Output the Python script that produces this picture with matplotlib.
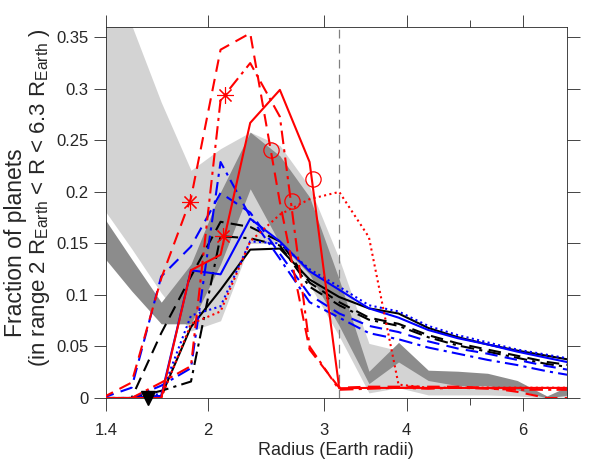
import numpy as np
import matplotlib.pyplot as plt
from matplotlib.ticker import FixedLocator, NullFormatter

plt.rcParams['font.family'] = ['Liberation Sans', 'DejaVu Sans']
plt.rcParams['mathtext.fontset'] = 'custom'
plt.rcParams['mathtext.rm'] = 'Liberation Sans'

# bin radii (Earth radii)
radius = [1.380, 1.531, 1.698, 1.884, 2.089, 2.317, 2.570, 2.851, 3.162,
          3.508, 3.890, 4.315, 4.786, 5.309, 5.888, 6.531, 7.244]

# observed ranges (gray bands)
light_lo = [0.186, 0.145, 0.102, 0.065, 0.075, 0.150, 0.150, 0.110, 0.060,
            0.005, 0.010, 0.003, 0.003, 0.003, 0.002, 0.000, 0.002]
light_hi = [0.400, 0.362, 0.287, 0.221, 0.242, 0.258, 0.245, 0.205, 0.135,
            0.053, 0.046, 0.022, 0.020, 0.017, 0.012, 0.002, 0.010]
dark_lo = [0.139, 0.104, 0.072, 0.072, 0.130, 0.203, 0.150, 0.120, 0.070,
           0.014, 0.035, 0.017, 0.012, 0.012, 0.008, 0.000, 0.004]
dark_hi = [0.178, 0.135, 0.093, 0.130, 0.200, 0.258, 0.235, 0.195, 0.115,
           0.026, 0.054, 0.027, 0.026, 0.024, 0.017, 0.002, 0.015]

# model curves
red_solid = [0, 0, 0, 0.124, 0.139, 0.267, 0.299, 0.229, 0.0095, 0.0098,
             0.0098, 0.0098, 0.0098, 0.0098, 0.0098, 0.0098, 0.0098]
red_dashed = [0, 0.015, 0.116, 0.194, 0.338, 0.354, 0.190, 0.047, 0.010,
              0.011, 0.011, 0.011, 0.011, 0.010, 0.006, 0.0, 0.0]
red_dashdot = [0, 0, 0.015, 0.031, 0.289, 0.325, 0.273, 0.050, 0.008,
               0.009, 0.010, 0.009, 0.010, 0.009, 0.008, 0.008, 0.008]
red_dotted = [0, 0, 0, 0.072, 0.084, 0.152, 0.178, 0.193, 0.200, 0.156,
              0.013, 0.010, 0.010, 0.010, 0.010, 0.010, 0.010]

blue_solid = [0, 0, 0.002, 0.124, 0.120, 0.174, 0.152, 0.123, 0.105, 0.087,
              0.078, 0.066, 0.058, 0.052, 0.045, 0.039, 0.033]
blue_dashed = [0, 0.010, 0.118, 0.147, 0.199, 0.180, 0.140, 0.100, 0.082,
               0.070, 0.064, 0.055, 0.048, 0.043, 0.037, 0.031, 0.026]
blue_dashdot = [0, 0, 0.012, 0.029, 0.229, 0.176, 0.135, 0.093, 0.078,
                0.063, 0.057, 0.049, 0.043, 0.037, 0.032, 0.026, 0.021]
blue_dotted = [0, 0, 0.004, 0.080, 0.089, 0.152, 0.150, 0.125, 0.108,
               0.090, 0.084, 0.070, 0.061, 0.054, 0.047, 0.042, 0.037]

black_solid = [0, 0, 0.002, 0.069, 0.105, 0.144, 0.145, 0.115, 0.098,
               0.087, 0.082, 0.068, 0.059, 0.052, 0.046, 0.041, 0.036]
black_dashed = [0, 0, 0.063, 0.118, 0.171, 0.166, 0.152, 0.112, 0.093,
                0.078, 0.072, 0.061, 0.053, 0.047, 0.041, 0.035, 0.031]
black_dashdot = [0, 0, 0.007, 0.016, 0.157, 0.155, 0.148, 0.108, 0.090,
                 0.076, 0.070, 0.059, 0.051, 0.045, 0.039, 0.033, 0.029]

# individual points
star_r = [1.877, 2.121, 2.108]
star_f = [0.190, 0.294, 0.157]
circ_r = [2.490, 2.887, 2.677]
circ_f = [0.241, 0.213, 0.191]
tri_r = [1.622]
tri_f = [0.0]

fig = plt.figure(figsize=(6.13, 4.62), dpi=100)
ax = fig.add_axes([0.1729, 0.1385, 0.7516, 0.8030])

ax.fill_between(radius, light_lo, light_hi, color='#d3d3d3', lw=0, zorder=1)
ax.fill_between(radius, dark_lo, dark_hi, color='#8c8c8c', lw=0, zorder=2)

ax.axvline(np.sqrt(10), color='#808080', lw=0.9, ls=(0, (7, 5)), zorder=3)

lw = 1.5
dash = (0, (6, 3.5))
dashdot = (0, (6.5, 2.5, 1.5, 2.5))
dot = (0, (1, 1.6))
curves = [
    (black_dashdot, 'k', dashdot), (black_dashed, 'k', dash), (black_solid, 'k', '-'),
    (blue_dashdot, 'b', dashdot), (blue_dashed, 'b', dash), (blue_solid, 'b', '-'),
    (blue_dotted, 'b', dot),
    (red_dotted, 'r', dot), (red_dashdot, 'r', dashdot), (red_dashed, 'r', dash),
    (red_solid, 'r', '-'),
]
for vals, c, ls in curves:
    ax.plot(radius, vals, color=c, ls=ls, lw=lw, zorder=4)

ax.plot(star_r, star_f, ls='none', marker=(8, 2, 0), ms=12, mec='r', mew=0.8, zorder=5)
ax.plot(circ_r, circ_f, ls='none', marker='o', ms=11, mfc='none', mec='r', mew=0.9, zorder=5)
ax.plot(tri_r, tri_f, ls='none', marker='v', ms=10, color='k', zorder=6, clip_on=False)

ax.set_xscale('log')
ax.set_xlim(1.4, 7.0)
ax.set_ylim(0, 0.36)
ax.xaxis.set_major_locator(FixedLocator([1.4, 2, 3, 4, 6]))
ax.set_xticklabels(['1.4', '2', '3', '4', '6'])
ax.xaxis.set_minor_locator(FixedLocator([5]))
ax.xaxis.set_minor_formatter(NullFormatter())
yt = [0, 0.05, 0.1, 0.15, 0.2, 0.25, 0.3, 0.35]
ax.set_yticks(yt)
ax.set_yticklabels(['0', '0.05', '0.1', '0.15', '0.2', '0.25', '0.3', '0.35'])

ink = '#262626'
for s in ax.spines.values():
    s.set_color(ink)
    s.set_linewidth(0.6)
ax.tick_params(which='major', direction='out', length=9, width=0.6, color=ink,
               labelcolor=ink, labelsize=12, top=True, right=True)
ax.tick_params(which='minor', direction='out', length=5, width=0.6, color=ink,
               top=True)
ax.tick_params(axis='x', pad=9)

ax.set_xlabel('Radius (Earth radii)', fontsize=13, color=ink, labelpad=3)
W, H = 613, 462
fig.text(16 / W, 1 - 243 / H, 'Fraction of planets', rotation=90,
         ha='center', va='center', fontsize=16.5, color=ink)
fig.text(40 / W, 1 - 198 / H,
         '(in range 2 R$_{\\rm Earth}$ < R < 6.3 R$_{\\rm Earth}$ )',
         rotation=90, ha='center', va='center', fontsize=16, color=ink)

fig.savefig('out.png', dpi=100)
